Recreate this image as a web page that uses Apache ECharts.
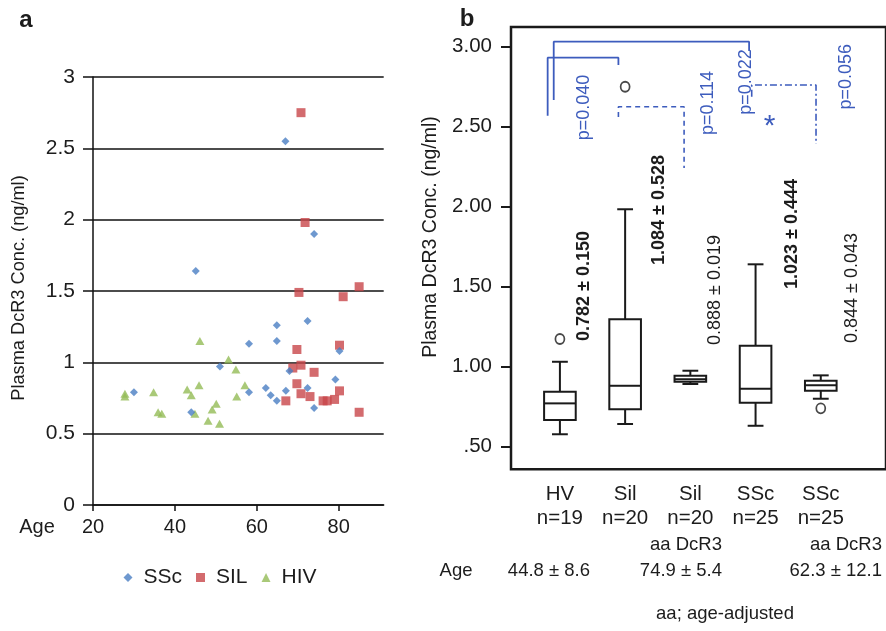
<!DOCTYPE html>
<html><head><meta charset="utf-8">
<script src="https://cdn.jsdelivr.net/npm/echarts@6/dist/echarts.min.js"></script>
<style>html,body{margin:0;padding:0;background:#fff}#c{width:886px;height:631px}</style>
</head><body><div id="c"></div><script>
// ---------- Panel a: scatter [age, DcR3 ng/ml] ----------
const sscPoints = [[30,0.79],[44,0.65],[45.1,1.64],[51,0.97],[58.1,1.13],[58.1,0.79],[62.2,0.82],[63.4,0.77],[64.9,1.26],[64.9,1.15],[64.9,0.73],[67,2.55],[67.1,0.80],[68,0.94],[72.4,1.29],[72.4,0.82],[74,1.90],[74,0.68],[79.2,0.88],[80.2,1.08]];
const silPoints = [[67.1,0.73],[68.8,0.96],[69.8,1.09],[69.8,0.85],[70.3,1.49],[70.8,2.75],[70.8,0.98],[70.8,0.78],[71.8,1.98],[73,0.76],[74,0.93],[76.2,0.73],[77.2,0.73],[79,0.74],[80.2,1.12],[80.2,0.80],[81.1,1.46],[85,1.53],[85,0.65]];
const hivPoints = [[27.8,0.78],[27.8,0.76],[34.8,0.79],[35.9,0.65],[36.8,0.64],[43,0.81],[44,0.77],[44.9,0.64],[45.9,0.84],[46.1,1.15],[48.1,0.59],[49.1,0.67],[50.1,0.71],[50.9,0.57],[53.1,1.02],[54.9,0.95],[55.1,0.76],[57.1,0.84]];
const legendNames = ['SSc','SIL','HIV'];
const ageTicks = [20,40,60,80];

// ---------- Panel b: box plots ----------
const groupNames = ['HV','Sil','Sil','SSc','SSc'];
const groupN = ['n=19','n=20','n=20','n=25','n=25'];
// [min, Q1, median, Q3, max]
const boxStats = [
  [0.578,0.667,0.771,0.844,1.031],
  [0.642,0.734,0.881,1.296,1.984],
  [0.892,0.906,0.921,0.944,0.975],
  [0.631,0.775,0.863,1.131,1.640],
  [0.800,0.850,0.884,0.913,0.946]
];
const outlierGroup = [0,1,4];
const outlierValue = [1.173,2.75,0.74];
const meanSd = ['0.782 ± 0.150','1.084 ± 0.528','0.888 ± 0.019','1.023 ± 0.444','0.844 ± 0.043'];
const ageRow = ['44.8 ± 8.6','74.9 ± 5.4','62.3 ± 12.1'];
const pValues = ['p=0.040','p=0.022','p=0.114','p=0.056'];
const bTicks = [0.5,1,1.5,2,2.5,3];

const FONT = 'Liberation Sans, Arial, Helvetica, sans-serif';
const TXT = '#1c1c1c';
const BLUE = '#3d5cbd';

const chart = echarts.init(document.getElementById('c'), null, {renderer:'canvas'});

// bracket shapes in data space of panel b (x = group index, y = ng/ml)
const brackets = [
  {pts:[[-0.188,2.569],[-0.188,2.931],[0.897,2.931],[0.897,2.886]], type:'solid'},
  {pts:[[-0.095,2.667],[-0.095,3.031],[2.901,3.031],[2.901,2.973]], type:'solid'},
  {pts:[[0.897,2.561],[0.897,2.625],[1.904,2.625],[1.904,2.242]], type:[5,4]},
  {pts:[[2.941,2.6875],[2.941,2.761],[3.927,2.761],[3.927,2.392]], type:[7,3,2,3]}
];

function txt(text, x, y, opt) {
  opt = opt || {};
  return {
    type:'text', x:x, y:y, rotation: opt.rot ? Math.PI/2 : 0, silent:true,
    style:{text:text, fontFamily:FONT, fontSize:opt.size||20, fontWeight:opt.bold?'bold':'normal',
      fill:opt.color||TXT, textAlign:opt.align||'center', textVerticalAlign:'middle'}
  };
}

const graphics = [
  txt('a', 26, 20, {size:24, bold:true}),
  txt('b', 467, 19, {size:24, bold:true}),
  txt('Plasma DcR3 Conc. (ng/ml)', 19, 288, {size:18.2, rot:true}),
  txt('Age', 37, 527, {size:20}),
  txt('Plasma DcR3 Conc. (ng/ml)', 431, 237, {size:19.5, rot:true}),
  txt(pValues[0], 584, 107.5, {size:18, rot:true, color:BLUE}),
  txt(pValues[1], 746.5, 82, {size:18, rot:true, color:BLUE}),
  txt(pValues[2], 708, 103, {size:18, rot:true, color:BLUE}),
  txt(pValues[3], 846.5, 76.7, {size:18, rot:true, color:BLUE}),
  txt('*', 769.5, 127, {size:30, color:BLUE}),
  txt(meanSd[0], 584.5, 286, {size:18, bold:true, rot:true}),
  txt(meanSd[1], 659.5, 210, {size:18, bold:true, rot:true}),
  txt(meanSd[2], 715.5, 290, {size:18, rot:true}),
  txt(meanSd[3], 792, 234, {size:18, bold:true, rot:true}),
  txt(meanSd[4], 852, 288, {size:18, rot:true}),
  txt('aa DcR3', 722, 545, {size:18.5, align:'right'}),
  txt('aa DcR3', 882, 545, {size:18.5, align:'right'}),
  txt('Age', 456, 571, {size:18.5}),
  txt(ageRow[0], 590, 571, {size:18.5, align:'right'}),
  txt(ageRow[1], 722, 571, {size:18.5, align:'right'}),
  txt(ageRow[2], 882, 571, {size:18.5, align:'right'}),
  txt('aa; age-adjusted', 725, 614, {size:18.5})
];

const option = {
  animation:false,
  backgroundColor:'#ffffff',
  textStyle:{fontFamily:FONT},
  legend:{
    data:legendNames, left:123.5, top:567, padding:0, itemWidth:9, itemHeight:9, itemGap:14,
    textStyle:{fontSize:21, color:TXT, fontFamily:FONT, padding:[0,0,0,6]}, selectedMode:false
  },
  grid:[
    {left:93, top:77, width:290.7, height:428, containLabel:false},
    {left:511, top:27, right:-17, bottom:161.7, containLabel:false, show:true,
      borderColor:'#1a1a1a', borderWidth:2.5, backgroundColor:'transparent'}
  ],
  xAxis:[
    {type:'value', gridIndex:0, min:20, max:91, interval:20,
      axisLine:{show:true, onZero:false, lineStyle:{color:'#111', width:1.5}},
      axisTick:{show:true, length:6, customValues:ageTicks, lineStyle:{color:'#111', width:1.5}},
      axisLabel:{customValues:ageTicks, fontSize:20, color:TXT, margin:12, fontFamily:FONT},
      splitLine:{show:false}},
    {type:'value', gridIndex:1, min:-0.75, max:5.0,
      axisLine:{show:false, onZero:false}, axisTick:{show:false}, splitLine:{show:false},
      axisLabel:{customValues:[0,1,2,3,4], fontSize:20.5, lineHeight:24, color:TXT, margin:13, fontFamily:FONT,
        formatter:function(v){const i=Math.round(v); return groupNames[i]+'\n'+groupN[i];}}}
  ],
  yAxis:[
    {type:'value', gridIndex:0, min:0, max:3, interval:0.5,
      axisLine:{show:true, onZero:false, lineStyle:{color:'#111', width:1.5}},
      axisTick:{show:true, length:10, lineStyle:{color:'#111', width:1.5}},
      axisLabel:{fontSize:21, color:TXT, margin:18, fontFamily:FONT},
      splitLine:{show:true, lineStyle:{color:'#111', width:1.5}}},
    {type:'value', gridIndex:1, min:0.359, max:3.123,
      axisLine:{show:false, onZero:false},
      axisTick:{show:true, length:10, customValues:bTicks, lineStyle:{color:'#1a1a1a', width:2}},
      axisLabel:{customValues:bTicks, fontSize:20.5, color:TXT, margin:19, fontFamily:FONT,
        formatter:function(v){return Math.abs(v-0.5)<1e-6 ? '.50' : v.toFixed(2);}},
      splitLine:{show:false}}
  ],
  series:[
    {name:'SSc', type:'scatter', xAxisIndex:0, yAxisIndex:0, data:sscPoints, symbol:'diamond', symbolSize:8,
      itemStyle:{color:'#4a7ec3'}, z:3},
    {name:'SIL', type:'scatter', xAxisIndex:0, yAxisIndex:0, data:silPoints, symbol:'rect', symbolSize:9,
      itemStyle:{color:'#c8464a'}, z:2},
    {name:'HIV', type:'scatter', xAxisIndex:0, yAxisIndex:0, data:hivPoints, symbol:'triangle', symbolSize:[9,8],
      itemStyle:{color:'#94bb56'}, z:2},
    {type:'custom', xAxisIndex:1, yAxisIndex:1, silent:true,
      data:boxStats.map(function(s,i){return [i].concat(s);}),
      encode:{x:0, y:[1,2,3,4,5]},
      renderItem:function(params, api){
        const x = api.value(0);
        const pMin = api.coord([x, api.value(1)]);
        const pQ1 = api.coord([x, api.value(2)]);
        const pMed = api.coord([x, api.value(3)]);
        const pQ3 = api.coord([x, api.value(4)]);
        const pMax = api.coord([x, api.value(5)]);
        const hw = api.size([0.485, 0])[0] / 2;
        const ch = hw * 0.5;
        const cx = pMed[0];
        const st = {stroke:'#1a1a1a', lineWidth:2, fill:null};
        return {type:'group', children:[
          {type:'line', shape:{x1:cx, y1:pMax[1], x2:cx, y2:pQ3[1]}, style:st},
          {type:'line', shape:{x1:cx, y1:pQ1[1], x2:cx, y2:pMin[1]}, style:st},
          {type:'line', shape:{x1:cx-ch, y1:pMax[1], x2:cx+ch, y2:pMax[1]}, style:st},
          {type:'line', shape:{x1:cx-ch, y1:pMin[1], x2:cx+ch, y2:pMin[1]}, style:st},
          {type:'rect', shape:{x:cx-hw, y:pQ3[1], width:2*hw, height:pQ1[1]-pQ3[1]},
            style:{stroke:'#1a1a1a', lineWidth:2, fill:'#ffffff'}},
          {type:'line', shape:{x1:cx-hw, y1:pMed[1], x2:cx+hw, y2:pMed[1]}, style:st}
        ]};
      }},
    {type:'scatter', xAxisIndex:1, yAxisIndex:1, silent:true,
      data:outlierGroup.map(function(g,i){return [g, outlierValue[i]];}),
      symbol:'circle', symbolSize:[9,10],
      itemStyle:{color:'#ffffff', borderColor:'#1a1a1a', borderWidth:1.8}}
  ].concat(brackets.map(function(b){
    return {type:'line', xAxisIndex:1, yAxisIndex:1, data:b.pts, symbol:'none', silent:true,
      lineStyle:{color:BLUE, width:b.type==='solid'?1.8:1.6, type:b.type}, z:1};
  })),
  graphic:graphics
};
chart.setOption(option);
</script></body></html>
